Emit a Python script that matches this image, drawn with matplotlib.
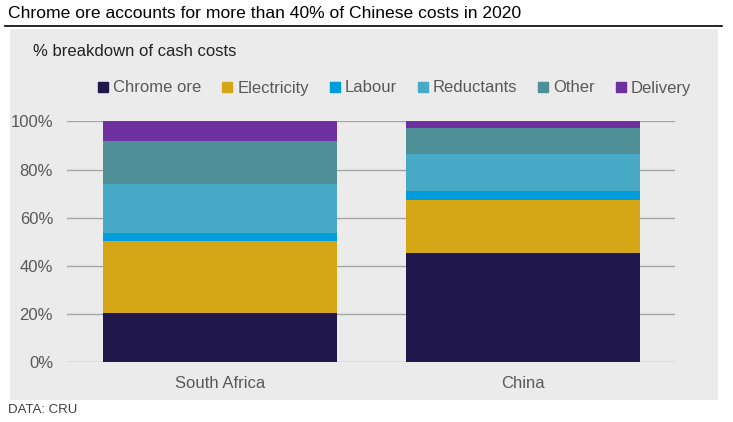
import numpy as np
import matplotlib
matplotlib.use("Agg")
import matplotlib.pyplot as plt
from matplotlib.patches import Rectangle
from matplotlib.lines import Line2D

plt.rcParams['font.family'] = ['Liberation Sans', 'DejaVu Sans']

# Data (% of cash costs)
regions = ["South Africa", "China"]
components = ["Chrome ore", "Electricity", "Labour", "Reductants", "Other", "Delivery"]
chrome_ore = [20.5, 45.4]
electricity = [29.8, 21.9]
labour = [3.3, 3.8]
reductants = [20.4, 15.3]
other = [17.8, 10.8]
delivery = [8.2, 2.8]
colors = ["#20174A", "#D5A717", "#009CDC", "#47A9C6", "#4F9098", "#6F31A0"]

W, H = 733, 422
fig = plt.figure(figsize=(W / 100, H / 100), dpi=100)
fig.patch.set_facecolor("white")

# grey panel behind the chart
fig.patches.append(Rectangle((10 / W, 1 - 400 / H), 708 / W, 371 / H,
                             transform=fig.transFigure, facecolor="#EBEBEB",
                             edgecolor="none", zorder=-10))
# black rule under the title
fig.add_artist(Line2D([5 / W, 722 / W], [1 - 26 / H, 1 - 26 / H],
                      transform=fig.transFigure, color="black", linewidth=1.2))

fig.text(8 / W, 1 - 14 / H, "Chrome ore accounts for more than 40% of Chinese costs in 2020",
         fontsize=12.6, color="black", va="center", ha="left")
fig.text(33 / W, 1 - 52 / H, "% breakdown of cash costs", fontsize=12,
         color="#222222", va="center", ha="left")
fig.text(8 / W, 1 - 410 / H, "DATA: CRU", fontsize=9.5, color="#404040",
         va="center", ha="left")

ax = fig.add_axes([67 / W, 1 - 362.3 / H, 608 / W, 241 / H])
ax.set_facecolor("none")

series = [chrome_ore, electricity, labour, reductants, other, delivery]
x = np.arange(len(regions))
bottom = np.zeros(len(regions))
for name, vals, col in zip(components, series, colors):
    vals = np.array(vals) / 100.0
    ax.bar(x, vals, width=0.772, bottom=bottom, color=col, label=name, zorder=3)
    bottom += vals

ax.set_xlim(-0.505, 1.502)
ax.set_ylim(0, 1)
ax.set_yticks(np.arange(0, 1.01, 0.2))
ax.set_yticklabels([f"{int(round(v * 100))}%" for v in np.arange(0, 1.01, 0.2)])
ax.yaxis.grid(True, color="#A6A6A6", linewidth=1, zorder=0)
ax.set_xticks(x)
ax.set_xticklabels(regions)
ax.tick_params(axis="both", length=0, labelsize=12, labelcolor="#595959")
ax.tick_params(axis="y", pad=10)
ax.tick_params(axis="x", pad=10)
for s in ax.spines.values():
    s.set_visible(False)

handles = [Line2D([], [], marker="s", linestyle="none", markersize=6.5,
                  markerfacecolor=c, markeredgecolor=c) for c in colors]
fig.legend(handles, components, loc="center", ncol=6,
           bbox_to_anchor=(393 / W, 1 - 88 / H), frameon=False,
           fontsize=12, labelcolor="#595959", handletextpad=0.1,
           columnspacing=1.05, handlelength=1.0)

fig.savefig("out.png", dpi=100, facecolor="white")
